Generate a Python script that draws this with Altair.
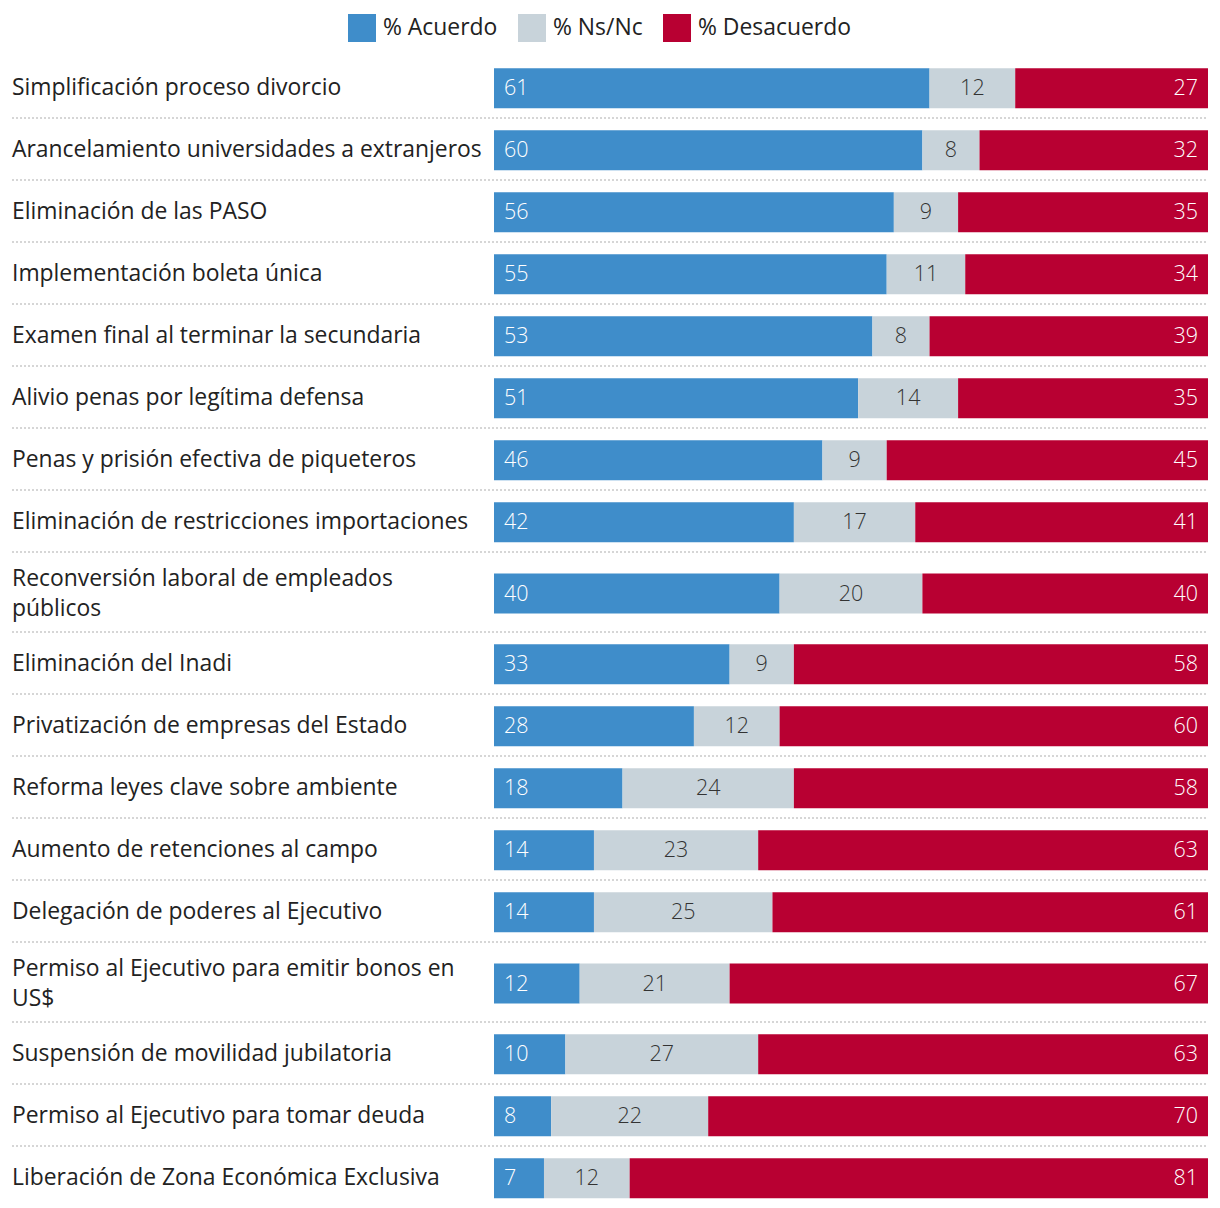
import altair as alt
import pandas as pd

labels = [
    "Simplificación proceso divorcio",
    "Arancelamiento universidades a extranjeros",
    "Eliminación de las PASO",
    "Implementación boleta única",
    "Examen final al terminar la secundaria",
    "Alivio penas por legítima defensa",
    "Penas y prisión efectiva de piqueteros",
    "Eliminación de restricciones importaciones",
    "Reconversión laboral de empleados\npúblicos",
    "Eliminación del Inadi",
    "Privatización de empresas del Estado",
    "Reforma leyes clave sobre ambiente",
    "Aumento de retenciones al campo",
    "Delegación de poderes al Ejecutivo",
    "Permiso al Ejecutivo para emitir bonos en\nUS$",
    "Suspensión de movilidad jubilatoria",
    "Permiso al Ejecutivo para tomar deuda",
    "Liberación de Zona Económica Exclusiva",
]
acuerdo = [61, 60, 56, 55, 53, 51, 46, 42, 40, 33, 28, 18, 14, 14, 12, 10, 8, 7]
nsnc = [12, 8, 9, 11, 8, 14, 9, 17, 20, 9, 12, 24, 23, 25, 21, 27, 22, 12]
desacuerdo = [27, 32, 35, 34, 39, 35, 45, 41, 40, 58, 60, 58, 63, 61, 67, 63, 70, 81]

series = ["% Acuerdo", "% Ns/Nc", "% Desacuerdo"]
colors = ["#3f8dca", "#c8d3da", "#b80032"]

FONT = "Open Sans"
WEIGHT = 400
LABEL_SIZE = 22.9
VALUE_SIZE = 21.5
ROW1, ROW2, BAR = 62, 80, 40
LINE_H = 30
LABEL_X = -482
PLOT_W = 714

label_rows, bar_rows, sep_rows = [], [], []
top = 0
for i, lab in enumerate(labels):
    n_lines = lab.count("\n") + 1
    h = ROW1 if n_lines == 1 else ROW2
    yc = top + h * 0.52
    label_rows.append({"label": lab, "yt": yc - (n_lines - 1) * LINE_H / 2})
    start = 0
    for s, v in zip(series, [acuerdo[i], nsnc[i], desacuerdo[i]]):
        bar_rows.append({
            "label": lab, "series": s, "value": v,
            "start": start, "end": start + v, "mid": start + v / 2,
            "yc": yc, "y0": yc - BAR / 2, "y1": yc + BAR / 2,
        })
        start += v
    top += h
    if i < len(labels) - 1:
        sep_rows.append({"sep": top})
TOTAL = top

labels_df = pd.DataFrame(label_rows)
bars_df = pd.DataFrame(bar_rows)
seps_df = pd.DataFrame(sep_rows)

xs = alt.Scale(domain=[0, 100], nice=False, zero=False)
ys = alt.Scale(domain=[0, TOTAL], nice=False, zero=False, reverse=True)

rules = alt.Chart(seps_df).mark_rule(
    color="#d6d6d6", strokeWidth=2, strokeDash=[2, 2]
).encode(
    y=alt.Y("sep:Q", scale=ys, axis=None),
    x=alt.value(LABEL_X),
    x2=alt.value(PLOT_W),
)

bars = alt.Chart(bars_df).mark_bar(strokeWidth=0).encode(
    x=alt.X("start:Q", scale=xs, axis=None),
    x2="end:Q",
    y=alt.Y("y0:Q", scale=ys, axis=None),
    y2="y1:Q",
    color=alt.Color(
        "series:N",
        scale=alt.Scale(domain=series, range=colors),
        sort=series,
        legend=alt.Legend(
            orient="none", legendX=-146, legendY=-42, direction="horizontal",
            title=None, symbolType="square", symbolSize=784, symbolStrokeWidth=0,
            labelFontSize=LABEL_SIZE, labelFont=FONT, labelFontWeight=WEIGHT,
            labelColor="#222222",
            columnPadding=20, labelOffset=7, padding=0,
        ),
    ),
)

cat_text = alt.Chart(labels_df).mark_text(
    align="left", baseline="middle", fontSize=LABEL_SIZE, font=FONT,
    fontWeight=WEIGHT, color="#222222", lineBreak="\n", lineHeight=LINE_H,
).encode(
    x=alt.value(LABEL_X),
    y=alt.Y("yt:Q", scale=ys, axis=None),
    text="label:N",
)

val_common = dict(baseline="middle", fontSize=VALUE_SIZE, font=FONT,
                  fontWeight=300, dy=1)
t_acuerdo = alt.Chart(bars_df).transform_filter(
    alt.datum.series == series[0]
).mark_text(align="left", dx=10, color="white", **val_common).encode(
    x=alt.X("start:Q", scale=xs, axis=None),
    y=alt.Y("yc:Q", scale=ys, axis=None),
    text="value:Q",
)
t_nsnc = alt.Chart(bars_df).transform_filter(
    alt.datum.series == series[1]
).mark_text(align="center", color="#333333", **val_common).encode(
    x=alt.X("mid:Q", scale=xs, axis=None),
    y=alt.Y("yc:Q", scale=ys, axis=None),
    text="value:Q",
)
t_des = alt.Chart(bars_df).transform_filter(
    alt.datum.series == series[2]
).mark_text(align="right", dx=-10, color="white", **val_common).encode(
    x=alt.X("end:Q", scale=xs, axis=None),
    y=alt.Y("yc:Q", scale=ys, axis=None),
    text="value:Q",
)

chart = alt.layer(rules, bars, cat_text, t_acuerdo, t_nsnc, t_des).properties(
    width=PLOT_W,
    height=TOTAL,
    autosize=alt.AutoSizeParams(type="none"),
    padding={"left": 494, "top": 56, "right": 12, "bottom": 0},
    background="white",
).configure_view(stroke=None)

chart.save("out.html", embed_options={"renderer": "svg", "actions": False})
